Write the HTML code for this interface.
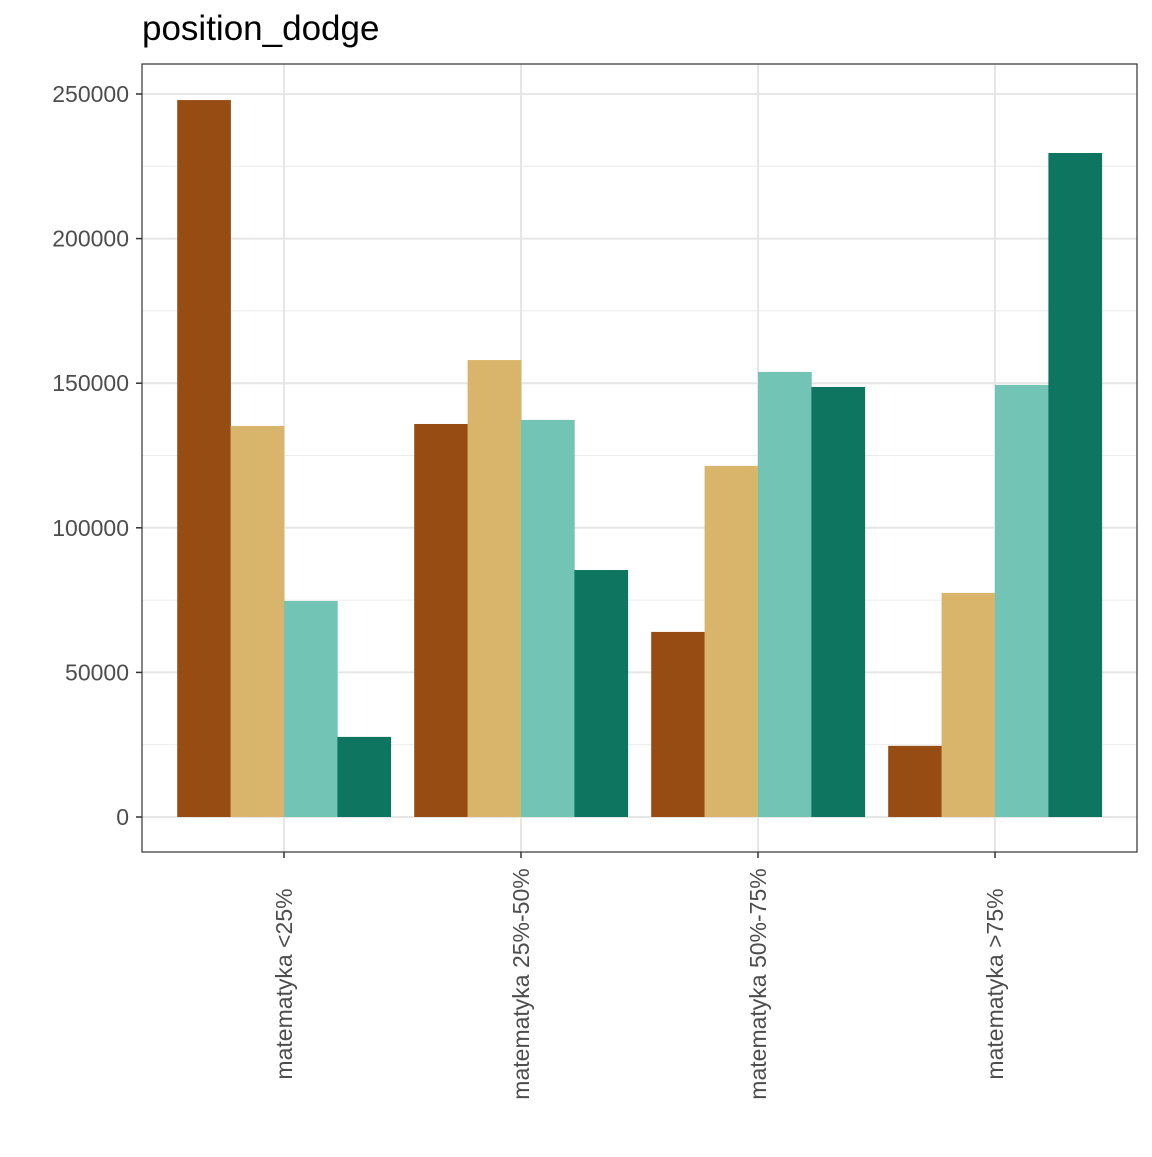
<!DOCTYPE html>
<html><head><meta charset="utf-8"><style>body{margin:0;background:#fff}svg text{font-family:"Liberation Sans",Arial,sans-serif}</style></head>
<body>
<svg id="c" width="1152" height="1152" xmlns="http://www.w3.org/2000/svg"></svg>
<script>
const categories = ["matematyka <25%","matematyka 25%-50%","matematyka 50%-75%","matematyka >75%"];
const series1 = [247900,135900,64000,24600];
const series2 = [135200,158000,121400,77500];
const series3 = [74700,137300,153900,149400];
const series4 = [27700,85400,148700,229600];
const yTicks = [0,50000,100000,150000,200000,250000];
const colors = ["#974C14","#D8B56A","#72C4B4","#0E7660"];
const svg=document.getElementById('c'),NS="http://www.w3.org/2000/svg";
const L=142,R=1137,T=64,B=852;
const y=v=>817-v*(723/250000);
const x=i=>284+i*237;
function mk(t,a,p){const e=document.createElementNS(NS,t);for(const k in a)e.setAttribute(k,a[k]);(p||svg).appendChild(e);return e;}
const t=mk('text',{x:142,y:40,'font-size':35,fill:'#000'});t.textContent='position_dodge';


mk('rect',{x:L,y:T,width:R-L,height:B-T,fill:'#fff'});
for(let i=0;i<yTicks.length-1;i++){const m=(yTicks[i]+yTicks[i+1])/2;mk('line',{x1:L,x2:R,y1:y(m),y2:y(m),stroke:'#ebebeb','stroke-width':1});}
yTicks.forEach(v=>{mk('line',{x1:L,x2:R,y1:y(v),y2:y(v),stroke:'#e6e6e6','stroke-width':2});
mk('line',{x1:L-6,x2:L,y1:y(v),y2:y(v),stroke:'#333','stroke-width':1.5});
const tx=mk('text',{x:L-13,y:y(v)+8,'font-size':23,fill:'#4d4d4d','text-anchor':'end'});tx.textContent=v;

});
categories.forEach((c,i)=>{mk('line',{x1:x(i),x2:x(i),y1:T,y2:B,stroke:'#e6e6e6','stroke-width':2});});
const all=[series1,series2,series3,series4],bw=53.4;
categories.forEach((c,i)=>{all.forEach((s,j)=>{const r=mk('rect',{x:x(i)-2*bw+j*bw,y:y(s[i]),width:bw+0.3,height:y(0)-y(s[i]),fill:colors[j]});

});
mk('line',{x1:x(i),x2:x(i),y1:B,y2:B+6,stroke:'#333','stroke-width':1.5});
const tx=mk('text',{x:0,y:0,'font-size':23,fill:'#4d4d4d','text-anchor':'middle',transform:`translate(${x(i)+8},984) rotate(-90)`});tx.textContent=c;

});
mk('rect',{x:L,y:T,width:R-L,height:B-T,fill:'none',stroke:'#333','stroke-width':1.2});
</script>
</body></html>
